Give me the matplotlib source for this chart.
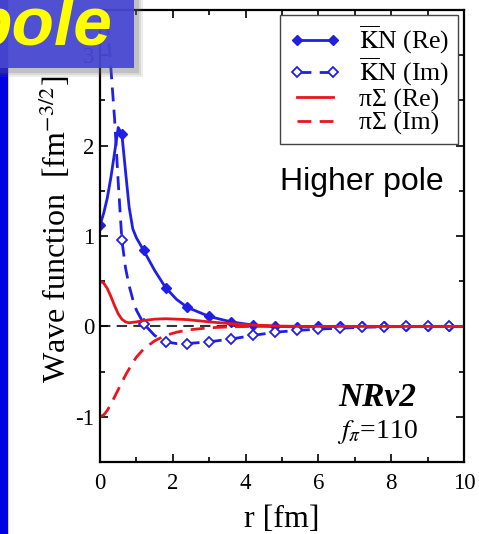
import matplotlib
matplotlib.use('Agg')
import matplotlib.pyplot as plt
from matplotlib.patches import Rectangle
from matplotlib.ticker import MultipleLocator

plt.rcParams['font.family'] = ['Liberation Serif', 'DejaVu Serif']
plt.rcParams['mathtext.fontset'] = 'stix'
plt.rcParams['axes.unicode_minus'] = False

# radial grid (fm) and wave function components
r = [0, 0.1, 0.2, 0.3, 0.4, 0.5, 0.6, 0.7, 0.8, 0.9, 1.0, 1.2, 1.5, 1.8, 2.1,
     2.4, 3.0, 3.6, 4.2, 4.8, 5.4, 6.0, 6.6, 7.2, 7.8, 8.4, 9.0, 9.6, 10.0]
kn_re = [1.12, 1.25, 1.42, 1.65, 1.92, 2.2, 2.13, 1.72, 1.32, 1.08, 0.98, 0.84,
         0.62, 0.43, 0.30, 0.21, 0.11, 0.05, 0.015, 0.0, -0.005, 0.0, 0.0, 0.0,
         0.0, 0.0, 0.0, 0.0, 0.0]
kn_im = [4.0, 3.7, 3.35, 2.85, 2.3, 1.6, 0.96, 0.65, 0.45, 0.30, 0.18, 0.03,
         -0.10, -0.17, -0.19, -0.19, -0.17, -0.14, -0.10, -0.065, -0.045,
         -0.03, -0.02, -0.01, -0.005, 0.0, 0.0, 0.0, 0.0]
ps_re = [0.5, 0.48, 0.42, 0.33, 0.23, 0.14, 0.08, 0.05, 0.04, 0.045, 0.05, 0.065,
         0.08, 0.085, 0.08, 0.075, 0.05, 0.03, 0.015, 0.005, 0.0, 0.0, 0.0, 0.0,
         0.0, 0.0, 0.0, 0.0, 0.0]
ps_im = [-1.0, -0.98, -0.93, -0.86, -0.78, -0.70, -0.62, -0.54, -0.47, -0.40,
         -0.34, -0.25, -0.16, -0.10, -0.065, -0.04, -0.015, -0.005, 0.0, 0.0,
         0.0, 0.0, 0.0, 0.0, 0.0, 0.0, 0.0, 0.0, 0.0]

# symbols are drawn every 0.6 fm
mark_r = [0.0, 0.6, 1.2, 1.8, 2.4, 3.0, 3.6, 4.2, 4.8, 5.4, 6.0, 6.6, 7.2,
          7.8, 8.4, 9.0, 9.6]
marks = [r.index(v) for v in mark_r]

blue = '#1f1fe6'
red = '#e8161c'

fig = plt.figure(figsize=(4.79, 5.34), dpi=100)
ax = fig.add_axes([100 / 479, 1 - 462 / 534, 364 / 479, 452 / 534])

ax.axhline(0, color='#333333', lw=1.5, ls=(0, (5, 3)), zorder=1)
ax.plot(r, kn_re, '-', color=blue, lw=2, marker='D', ms=5, mfc=blue,
        mec=blue, markevery=marks, label=r'$\overline{\mathrm{K}}$N (Re)')
ax.plot(r, kn_im, '--', color=blue, lw=2, marker='D', ms=5, mfc='white',
        mec=blue, mew=1.3, markevery=marks, dashes=(5, 3),
        label=r'$\overline{\mathrm{K}}$N (Im)')
ax.plot(r, ps_re, '-', color=red, lw=2, label='πΣ (Re)')
ax.plot(r, ps_im, '--', color=red, lw=2, dashes=(5, 3), label='πΣ (Im)')

ax.set_xlim(0, 10)
ax.set_ylim(-1.5, 3.5)
ax.xaxis.set_major_locator(MultipleLocator(2))
ax.xaxis.set_minor_locator(MultipleLocator(1))
ax.yaxis.set_major_locator(MultipleLocator(1))
ax.yaxis.set_minor_locator(MultipleLocator(0.5))
ax.tick_params(which='both', direction='in', top=True, right=True,
               labelsize=16.5, width=1.2)
ax.tick_params(axis='x', pad=8)
ax.tick_params(axis='y', pad=4)
ax.tick_params(which='major', length=6)
ax.tick_params(which='minor', length=3.5)
for s in ax.spines.values():
    s.set_linewidth(1.6)

ax.set_xlabel('r [fm]', fontsize=23)
ax.xaxis.set_label_coords(0.5, -0.096)
ax.set_ylabel(r'Wave function  [fm$^{-3/2}$]', fontsize=23)
ax.yaxis.set_label_coords(-0.074, 0.515)

leg = ax.legend(loc='upper right', bbox_to_anchor=(1 - 6 / 364, 1 - 5 / 452),
                fontsize=18.5, numpoints=2, handlelength=2.0,
                handletextpad=0.7, labelspacing=0.0, borderpad=0.35,
                borderaxespad=0.0, fancybox=False, framealpha=1,
                edgecolor='#444444')
leg.get_frame().set_linewidth(1.0)

ax.text(7.2, 1.51, 'Higher pole', fontsize=23, family='Liberation Sans',
        ha='center', va='baseline')
ax.text(7.62, -0.88, 'NRv2', fontsize=24, fontweight='bold', style='italic',
        ha='center', va='baseline')
ax.text(7.62, -1.23, r'$f_{\pi}$=110', fontsize=20, ha='center',
        va='baseline')

# slide decorations: blue left edge and the title box with its shadow
fig.patches.append(Rectangle((0, 0), 7 / 479, 1, transform=fig.transFigure,
                             color='#0000e0', zorder=5))
for k, a in zip([9, 7, 5], [0.12, 0.15, 0.2]):
    fig.patches.append(Rectangle((0, 1 - (68 + k) / 534), (134 + k) / 479,
                                 (68 + k) / 534, transform=fig.transFigure,
                                 color='#666666', alpha=a, lw=0, zorder=6))
fig.patches.append(Rectangle((0, 1 - 68 / 534), 134 / 479, 68 / 534,
                             transform=fig.transFigure, color='#4646d4',
                             alpha=0.92, lw=0, zorder=7))
fig.text(-30 / 479, 1 - 45 / 534, 'pole', fontsize=50, color='#ffff00',
         family='Liberation Sans', fontweight='bold', style='italic',
         ha='left', va='baseline', zorder=8)

fig.savefig('out.png', dpi=100)
